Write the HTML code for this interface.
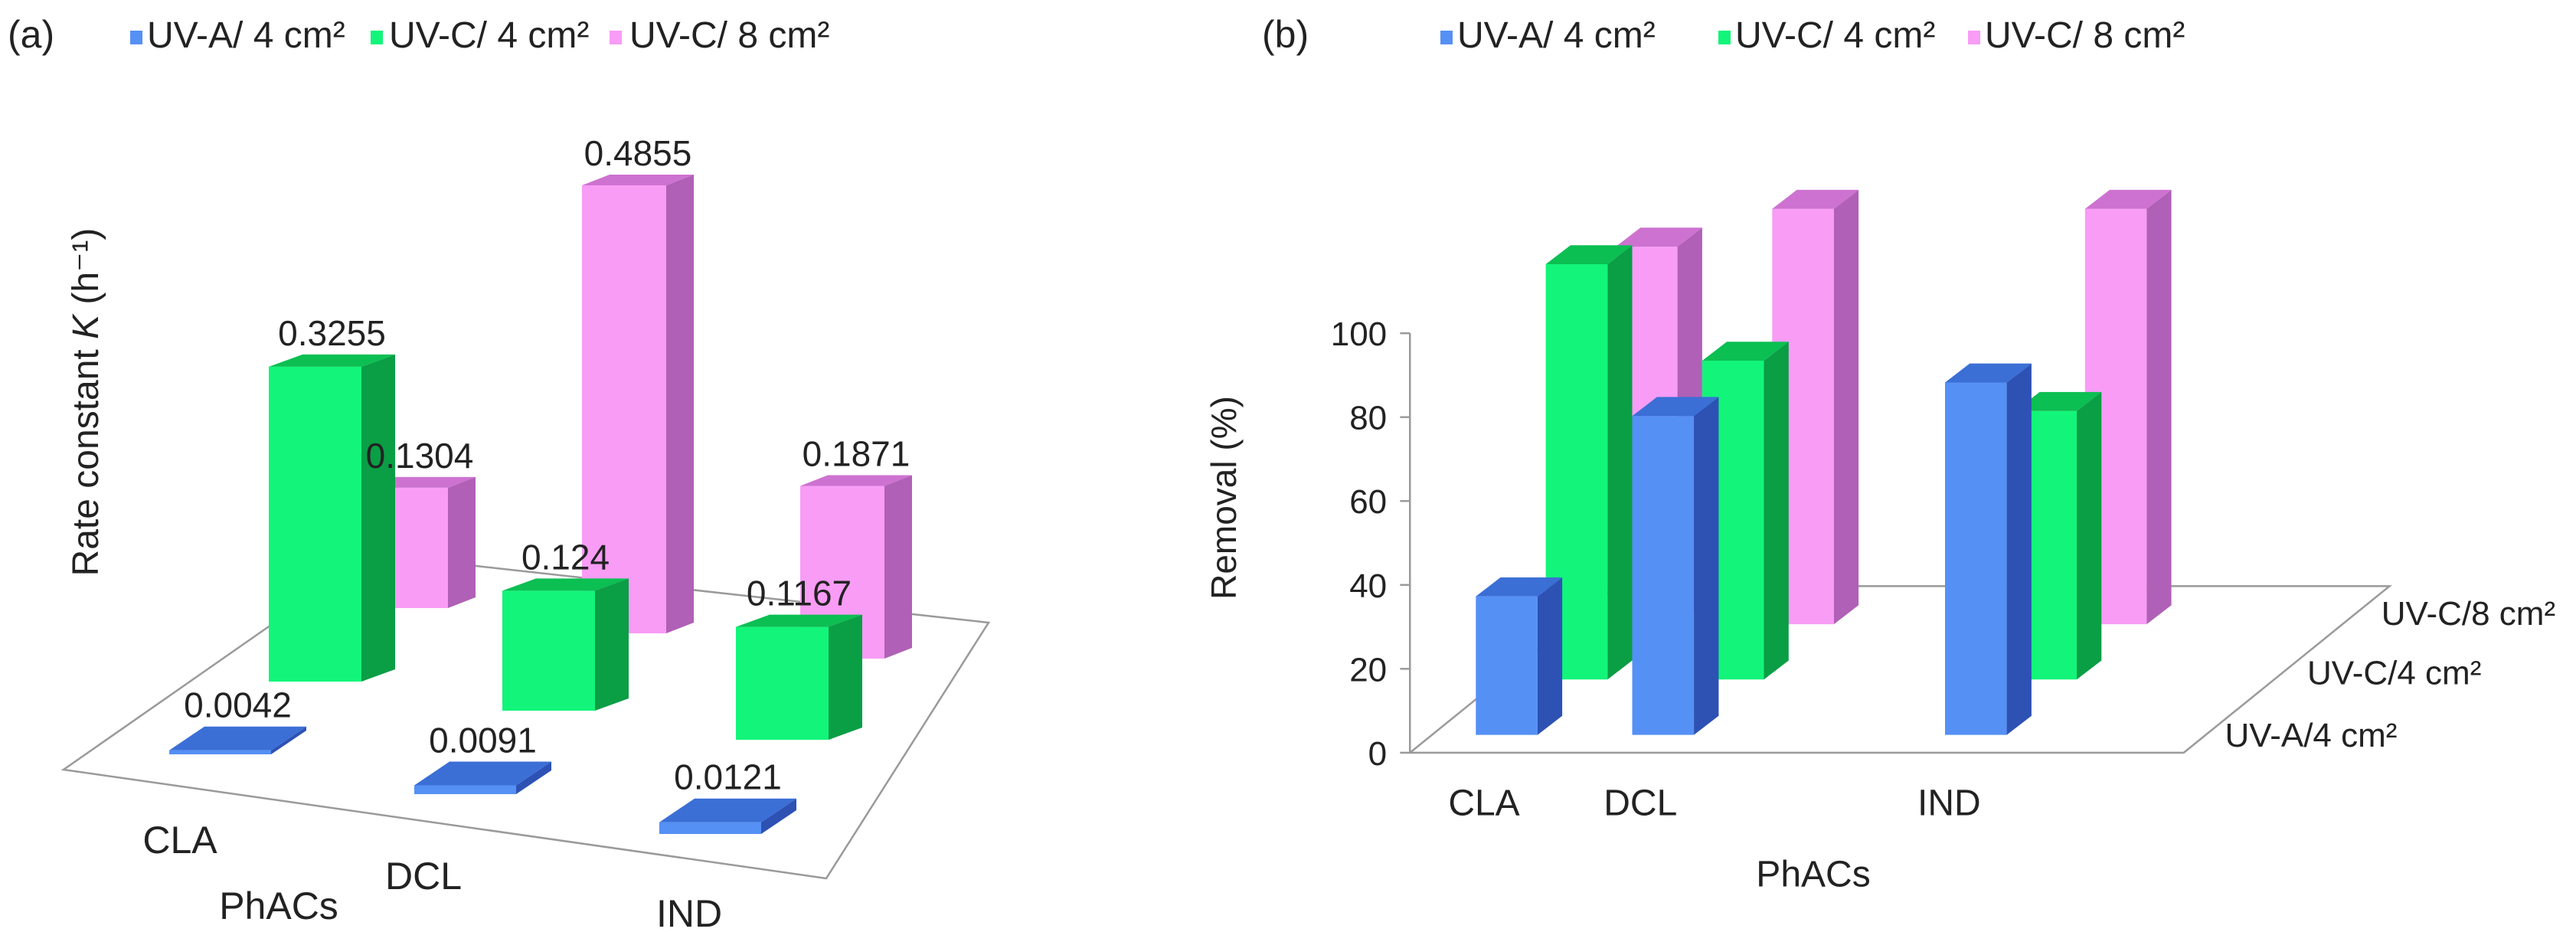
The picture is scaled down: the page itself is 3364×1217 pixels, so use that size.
<!DOCTYPE html>
<html><head><meta charset="utf-8"><title>Rate constant and removal charts</title>
<style>
html,body{margin:0;padding:0;background:#fff;}
svg{display:block;}
text{font-family:"Liberation Sans Narrow","Liberation Sans",sans-serif;fill:#222;}
</style></head>
<body>
<svg id="chart" width="3364" height="1217" viewBox="0 0 3364 1217" xmlns="http://www.w3.org/2000/svg">
  <rect x="0" y="0" width="3364" height="1217" fill="#fff"/>
  <g id="panelA"></g>
  <g id="panelB"></g>
</svg>
<script>
// ---------- data ----------
const categories = ['CLA', 'DCL', 'IND'];
const seriesNames = ['UV-A/ 4 cm\u00B2', 'UV-C/ 4 cm\u00B2', 'UV-C/ 8 cm\u00B2'];
const depthLabelsB = ['UV-A/4  cm\u00B2', 'UV-C/4 cm\u00B2', 'UV-C/8 cm\u00B2'];
const rateUVA4 = [0.0042, 0.0091, 0.0121];
const rateUVC4 = [0.3255, 0.124, 0.1167];
const rateUVC8 = [0.1304, 0.4855, 0.1871];
const removalUVA4 = [33, 76, 84];
const removalUVC4 = [99, 76, 64];
const removalUVC8 = [90, 99, 99];
const removalTicks = [0, 20, 40, 60, 80, 100];

const NS = 'http://www.w3.org/2000/svg';
const colors = [
  {front:'#5590f5', side:'#2d52b4', top:'#3b6fd6'},
  {front:'#12f57a', side:'#0a9e45', top:'#0cbf52'},
  {front:'#f89cf6', side:'#b060b6', top:'#cd72d0'}
];
function mk(tag, attrs, parent){
  const e = document.createElementNS(NS, tag);
  for (const k in attrs) e.setAttribute(k, attrs[k]);
  parent.appendChild(e);
  return e;
}
function poly(pts, fill, parent, name){
  const e = mk('polygon', {points: pts.map(p=>p[0].toFixed(1)+','+p[1].toFixed(1)).join(' '), fill: fill}, parent);
  
  
  return e;
}
function txt(x, y, s, size, parent, name, anchor, extra){
  const e = mk('text', {x:x, y:y, 'font-size':size, 'text-anchor':anchor||'middle'}, parent);
  if (extra) for (const k in extra) e.setAttribute(k, extra[k]);
  e.textContent = s;
  
  
  return e;
}
function bar3d(g, fx, fy, x, yb, w, h, dx, dy, col, name){
  const P = (a,b)=>[fx(a), fy(b)];
  const grp = mk('g', {}, g);
  
  
  poly([P(x,yb),P(x+w,yb),P(x+w,yb-h),P(x,yb-h)], col.front, grp, name+'-front');
  poly([P(x+w,yb),P(x+w+dx,yb+dy),P(x+w+dx,yb-h+dy),P(x+w,yb-h)], col.side, grp, name+'-side');
  poly([P(x,yb-h),P(x+w,yb-h),P(x+w+dx,yb-h+dy),P(x+dx,yb-h+dy)], col.top, grp, name+'-top');
  return grp;
}
function legend(g, items){
  items.forEach((it,i)=>{
    const r = mk('rect', {x:it.sx, y:40, width:16, height:18, fill:colors[i].front}, g);
    
    
    txt(it.tx, 62, seriesNames[i], 48, g, 'legend-entry-'+(i+1), 'start');
  });
}

// ---------- panel A ----------
(function(){
  const g = document.getElementById('panelA');
  const id = z => z;
  const rowsA = [   // layout per series row (pixels)
    {ox:221, oy:985, sx:320, sy:52, w:133, dx:46, dy:-31, k:1263},
    {ox:351, oy:890, sx:305, sy:38, w:121, dx:44, dy:-16, k:1263},
    {ox:475, oy:794, sx:285, sy:33, w:110, dx:36, dy:-14, k:1205}
  ];
  const valsA = [rateUVA4, rateUVC4, rateUVC8];
  const t = txt(10, 62, '(a)', 50, g, 'panel-a-label', 'start');
  t.setAttribute('font-family', '"Liberation Serif",serif');
  legend(g, [{sx:170,tx:192},{sx:484,tx:508},{sx:796,tx:822}]);
  const fl = mk('polygon', {points:'83,1005 1079,1147 1291,813 486,724', fill:'#fff', stroke:'#9a9a9a', 'stroke-width':2.5}, g);
  
  
  const yt = txt(0, 0, '', 48, g, 'y-axis-title', 'middle', {transform:'translate(128,525) rotate(-90)'});
  yt.textContent = 'Rate constant ';
  const k = mk('tspan', {'font-style':'italic'}, yt); k.textContent = 'K';
  const u = mk('tspan', {}, yt); u.textContent = ' (h\u207B\u00B9)';
  const labels = [];
  [2,1,0].forEach(si=>{
    const r = rowsA[si];
    valsA[si].forEach((v,ci)=>{
      const x = r.ox + ci*r.sx, yb = r.oy + ci*r.sy, h = v*r.k;
      bar3d(g, id, id, x, yb, r.w, h, r.dx, r.dy, colors[si], 'bar-a-'+categories[ci].toLowerCase()+'-s'+(si+1));
      labels.push([x + r.w/2 + r.dx/2, yb - h + r.dy - 12, String(v), 'value-label-a-'+categories[ci].toLowerCase()+'-s'+(si+1)]);
    });
  });
  labels.forEach(l=>txt(l[0], l[1], l[2], 46, g, l[3]));
  const catPos = [[235,1114],[553,1161],[900,1210]];
  categories.forEach((c,i)=>txt(catPos[i][0], catPos[i][1], c, 50, g, 'x-category-'+c.toLowerCase()));
  txt(364, 1200, 'PhACs', 50, g, 'x-axis-title');
})();

// ---------- panel B ----------
(function(){
  const g = document.getElementById('panelB');
  const bx = z => 1680 + z*1.075, by = z => z*0.777;
  const scaleB = v => v*7.05;
  const catX = [230, 420, 800];
  const rowDX = 85, rowDY = -93, baseY = 1235, w = 75;
  const valsB = [removalUVA4, removalUVC4, removalUVC8];
  const t = txt(1648, 62, '(b)', 50, g, 'panel-b-label', 'start');
  t.setAttribute('font-family', '"Liberation Serif",serif');
  legend(g, [{sx:1881,tx:1903},{sx:2244,tx:2266},{sx:2570,tx:2592}]);
  const fl = mk('polygon', {points:[[150,1265],[1090,1265],[1340,985],[400,985]].map(p=>bx(p[0])+','+by(p[1])).join(' '), fill:'#fff', stroke:'#9a9a9a', 'stroke-width':2.5}, g);
  
  
  const axl = mk('line', {x1:bx(150), y1:by(1265-scaleB(100)), x2:bx(150), y2:by(1265), stroke:'#9a9a9a', 'stroke-width':2.5}, g);
  
  
  removalTicks.forEach(tv=>{
    const y = by(1265 - scaleB(tv));
    const tl = mk('line', {x1:bx(138), y1:y, x2:bx(150), y2:y, stroke:'#9a9a9a', 'stroke-width':2.5}, g);
    
    
    txt(bx(122), y+16, String(tv), 44, g, 'y-tick-label-'+tv, 'end');
  });
  txt(0, 0, 'Removal  (%)', 46, g, 'y-axis-title', 'middle', {transform:'translate(1614,650) rotate(-90)', 'xml:space':'preserve'});
  [2,1,0].forEach(si=>{
    valsB[si].forEach((v,ci)=>{
      const x = catX[ci] + si*rowDX, yb = baseY + si*rowDY;
      bar3d(g, bx, by, x, yb, w, scaleB(v), 30, -32, colors[si], 'bar-b-'+categories[ci].toLowerCase()+'-s'+(si+1));
    });
  });
  const dl = [[1140,1255],[1240,1150],[1330,1050]];
  depthLabelsB.forEach((s,i)=>txt(bx(dl[i][0]), by(dl[i][1]), s, 44, g, 'depth-label-'+(i+1), 'start', {'xml:space':'preserve'}));
  const cp = [240, 430, 805];
  categories.forEach((c,i)=>txt(bx(cp[i]), by(1370), c, 48, g, 'x-category-'+c.toLowerCase()));
  txt(bx(640), by(1490), 'PhACs', 48, g, 'x-axis-title');
})();
</script>
</body></html>
